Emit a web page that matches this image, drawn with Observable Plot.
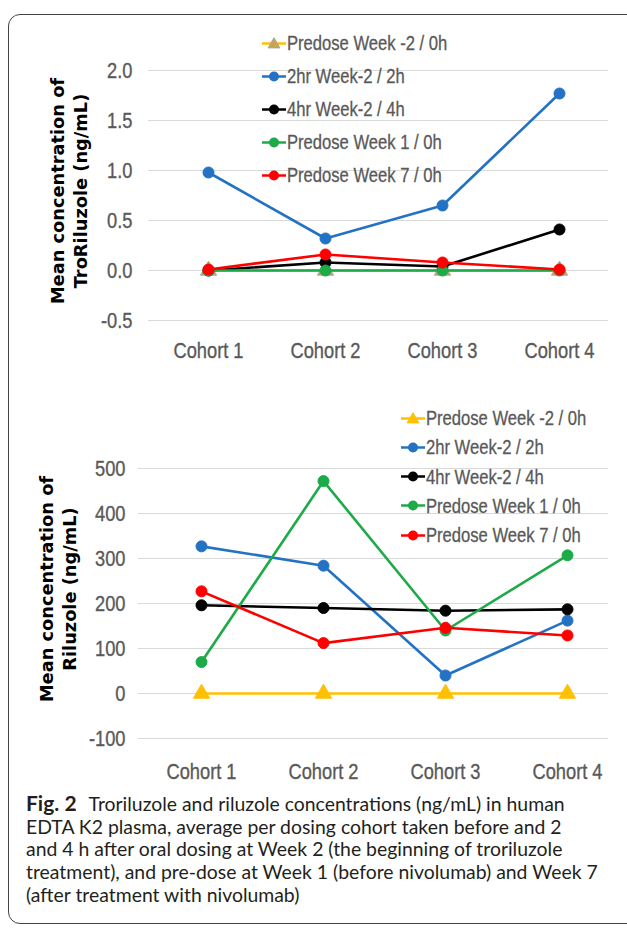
<!DOCTYPE html>
<html><head><meta charset="utf-8">
<script src="https://cdn.jsdelivr.net/npm/d3@7"></script>
<script src="https://cdn.jsdelivr.net/npm/@observablehq/plot@0.6"></script>
<style>
html,body{margin:0;padding:0;background:#fff;}
body{width:627px;height:929px;position:relative;overflow:hidden;}
#frame{position:absolute;left:8px;top:14px;width:680px;height:910px;border:1.5px solid #444;border-radius:12px;box-sizing:border-box;}
.chart{position:absolute;left:0;}
.chart g[aria-label$="tick label"] text{stroke:#595959;stroke-width:0.35px;}
.ytitle{position:absolute;font-family:"DejaVu Sans",sans-serif;font-weight:bold;font-size:17.8px;color:#000;white-space:nowrap;transform:translate(-50%,-50%) rotate(-90deg);line-height:23px;text-align:center;}
.legend-item{position:absolute;white-space:nowrap;display:flex;align-items:center;font-family:"Liberation Sans",Arial,sans-serif;font-size:20px;color:#595959;transform:translateY(-50%);-webkit-text-stroke:0.3px #595959;}
.legend-item span{display:inline-block;transform:scaleX(0.83);transform-origin:0 50%;}
.legend-item svg{margin-right:1px;}
#caption{position:absolute;left:26px;top:792px;font-family:"Lato",sans-serif;font-size:19.4px;line-height:22.7px;color:#231f20;white-space:nowrap;}
#caption b{font-weight:bold;font-size:21px;margin-right:12px;}
</style>
</head><body>
<div id="frame"></div>
<div id="top" class="chart" style="top:0px"></div>
<div id="bottom" class="chart" style="top:380px"></div>
<div class="ytitle" style="left:69px;top:191px">Mean concentration of<br>TroRiluzole (ng/mL)</div>
<div class="ytitle" style="left:58px;top:589px">Mean concentration of<br>Riluzole (ng/mL)</div>
<div id="caption"><b>Fig. 2</b>Troriluzole and riluzole concentrations (ng/mL) in human<br>EDTA K2 plasma, average per dosing cohort taken before and 2<br>and 4 h after oral dosing at Week 2 (the beginning of troriluzole<br>treatment), and pre-dose at Week 1 (before nivolumab) and Week 7<br>(after treatment with nivolumab)</div>
<script>
// ---- data ----
const cohorts = ["Cohort 1", "Cohort 2", "Cohort 3", "Cohort 4"];
const seriesNames = ["Predose Week -2 / 0h", "2hr Week-2 / 2h", "4hr Week-2 / 4h", "Predose Week 1 / 0h", "Predose Week 7 / 0h"];
const seriesColors = ["#ffc000", "#2372c4", "#000000", "#1daa48", "#ff0000"];
const seriesSymbols = ["triangle", "circle", "circle", "circle", "circle"];

// Troriluzole (ng/mL)
const troPredoseWkM2 = [0, 0, 0, 0];
const tro2hrWkM2 = [0.98, 0.32, 0.65, 1.77];
const tro4hrWkM2 = [0, 0.08, 0.04, 0.41];
const troPredoseWk1 = [0, 0, 0, 0];
const troPredoseWk7 = [0.01, 0.16, 0.08, 0.01];
const troTicks = [-0.5, 0, 0.5, 1.0, 1.5, 2.0];

// Riluzole (ng/mL)
const rilPredoseWkM2 = [0, 0, 0, 0];
const ril2hrWkM2 = [327, 284, 40, 162];
const ril4hrWkM2 = [196, 190, 184, 187];
const rilPredoseWk1 = [70, 472, 140, 307];
const rilPredoseWk7 = [227, 112, 146, 129];
const rilTicks = [-100, 0, 100, 200, 300, 400, 500];

const tickFont = '"Liberation Sans",Arial,sans-serif';

function rowsFor(seriesValues) {
  const rows = [];
  seriesValues.forEach((vals, i) => vals.forEach((v, j) => rows.push({series: seriesNames[i], si: i, cohort: cohorts[j], value: v})));
  return rows;
}

function chart(seriesValues, cfg) {
  const rows = rowsFor(seriesValues);
  const marks = [
    Plot.gridY({ticks: cfg.ticks, stroke: "#d9d9d9", strokeOpacity: 1, strokeWidth: 1.2}),
    Plot.axisY({ticks: cfg.ticks, tickSize: 0, tickPadding: cfg.yPad, tickFormat: cfg.fmt, label: null}),
    Plot.axisX({tickSize: 0, tickPadding: cfg.xPad, label: null})
  ];
  seriesNames.forEach((name, i) => {
    const d = rows.filter(r => r.si === i);
    marks.push(Plot.line(d, {x: "cohort", y: "value", stroke: seriesColors[i], strokeWidth: 2.6}));
    marks.push(Plot.dot(d, {x: "cohort", y: "value", fill: cfg.triFill && i === 0 ? cfg.triFill : seriesColors[i],
      stroke: cfg.triStroke && i === 0 ? cfg.triStroke : seriesColors[i], r: i === 0 ? 6 : 5.5, symbol: seriesSymbols[i], strokeWidth: 1}));
  });
  return Plot.plot({
    width: 627, height: cfg.height,
    marginLeft: cfg.ml, marginRight: cfg.mr, marginTop: cfg.mt, marginBottom: cfg.mb,
    style: {fontFamily: tickFont, fontSize: "22px", color: "#595959", background: "transparent", overflow: "visible"},
    x: {type: "point", domain: cohorts, padding: cfg.pad, align: cfg.align, label: null},
    y: {domain: cfg.domain, label: null},
    marks
  });
}

function condense(svg, k) {
  svg.querySelectorAll('g[aria-label$="tick label"] text').forEach(t => {
    const L = t.getComputedTextLength();
    if (L > 0) { t.setAttribute("textLength", (L * k).toFixed(2)); t.setAttribute("lengthAdjust", "spacingAndGlyphs"); }
  });
}

const topSvg = chart(
  [troPredoseWkM2, tro2hrWkM2, tro4hrWkM2, troPredoseWk1, troPredoseWk7],
  {height: 380, ml: 148, mr: 19, mt: 70, mb: 60, domain: [-0.5, 2.0], ticks: troTicks,
   fmt: d => d.toFixed(1), yPad: 16, xPad: 22, pad: 0.454, align: 0.55, triFill: "#c9a54e", triStroke: "#a6a6a6"});
document.getElementById("top").appendChild(topSvg);
condense(topSvg, 0.83);

const botSvg = chart(
  [rilPredoseWkM2, ril2hrWkM2, ril4hrWkM2, rilPredoseWk1, rilPredoseWk7],
  {height: 420, ml: 138, mr: 19, mt: 88, mb: 62, domain: [-100, 500], ticks: rilTicks,
   fmt: d => String(d), yPad: 13, xPad: 25, pad: 0.4215, align: 0.61});
document.getElementById("bottom").appendChild(botSvg);
condense(botSvg, 0.83);

// ---- legends (HTML) ----
function legend(x, y0, dy, triFill, triStroke) {
  seriesNames.forEach((name, i) => {
    const item = document.createElement("div");
    item.className = "legend-item";
    item.style.left = x + "px";
    item.style.top = (y0 + i * dy) + "px";
    const svg = d3.create("svg").attr("width", 24).attr("height", 16);
    svg.append("line").attr("x1", 0).attr("x2", 24).attr("y1", 8).attr("y2", 8)
      .attr("stroke", seriesColors[i]).attr("stroke-width", 2.6);
    if (seriesSymbols[i] === "triangle") {
      svg.append("path").attr("d", d3.symbol(d3.symbolTriangle, 60)()).attr("transform", "translate(12,9)")
        .attr("fill", triFill).attr("stroke", triStroke).attr("stroke-width", 1);
    } else {
      svg.append("circle").attr("cx", 12).attr("cy", 8).attr("r", 5).attr("fill", seriesColors[i]);
    }
    item.appendChild(svg.node());
    const t = document.createElement("span");
    t.textContent = name;
    item.appendChild(t);
    document.body.appendChild(item);
  });
}
legend(262, 43, 33, "#c9a54e", "#a6a6a6");
legend(401, 418, 29.3, "#ffc000", "#ffc000");
</script>
</body></html>
